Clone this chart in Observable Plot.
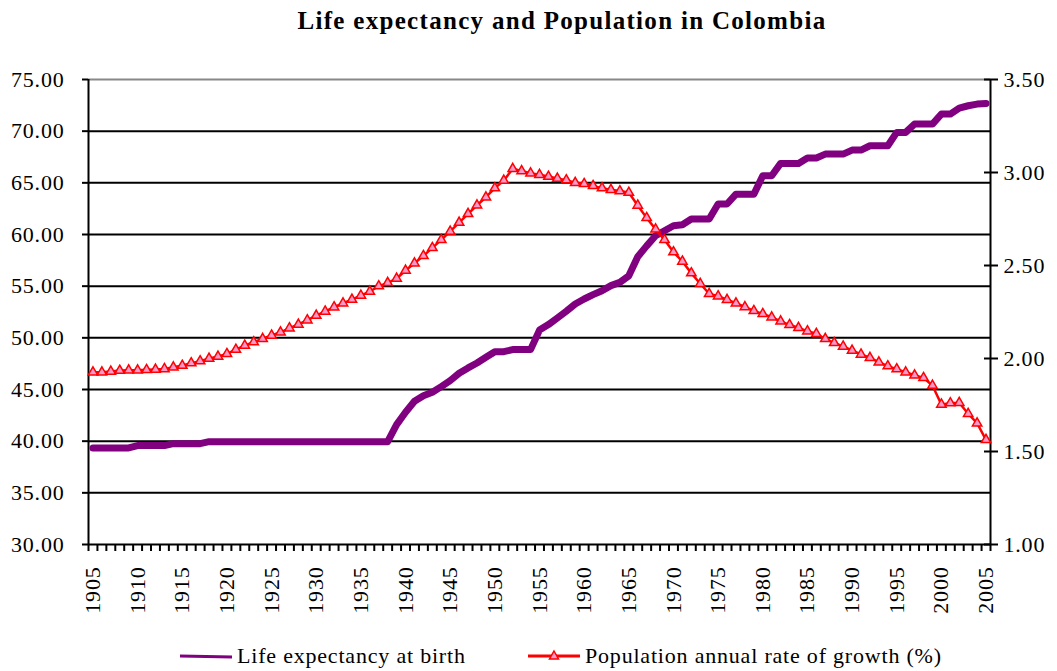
<!DOCTYPE html>
<html>
<head>
<meta charset="utf-8">
<script src="https://cdn.jsdelivr.net/npm/d3@7"></script>
<script src="https://cdn.jsdelivr.net/npm/@observablehq/plot@0.6"></script>
<style>
  html, body { margin: 0; padding: 0; background: #fff; }
  body { width: 1057px; height: 671px; position: relative; overflow: hidden; font-family: "Liberation Serif", "DejaVu Serif", serif; color: #000; }
  #title { position: absolute; top: 0; left: 0; width: 1057px; height: 40px; box-sizing: border-box; padding-left: 67px; text-align: center; font-size: 25px; font-weight: bold; letter-spacing: 1.3px; line-height: 42px; }
  #chart { position: absolute; top: 40px; left: 0; }
  #chart svg text { letter-spacing: 0.8px; }
  .leg { position: absolute; top: 642px; height: 28px; font-size: 22px; line-height: 28px; white-space: nowrap; letter-spacing: 0.8px; }
  .leg svg { position: absolute; top: 0; }
</style>
</head>
<body>
<div id="title">Life expectancy and Population in Colombia</div>
<div id="chart"></div>
<div class="leg" style="left:180px;"><svg width="56" height="28" style="left:0"><line x1="0" y1="14" x2="52" y2="15" stroke="#800080" stroke-width="3"/></svg><span style="position:absolute;left:57px;">Life expectancy at birth</span></div>
<div class="leg" style="left:528px;"><svg width="56" height="28" style="left:0"><line x1="0" y1="14" x2="52" y2="14" stroke="#ff0000" stroke-width="3"/><path d="M26,9 L30.5,17 L21.5,17 Z" fill="#ff99cc" stroke="#ff0000" stroke-width="1.5"/></svg><span style="position:absolute;left:57px;">Population annual rate of growth (%)</span></div>
<script>
const firstYear = 1905;
const lastYear = 2005;
const labelYears = [1905, 1910, 1915, 1920, 1925, 1930, 1935, 1940, 1945, 1950, 1955, 1960, 1965, 1970, 1975, 1980, 1985, 1990, 1995, 2000, 2005];
const leftTicks = [30, 35, 40, 45, 50, 55, 60, 65, 70, 75];
const rightTicks = [1.0, 1.5, 2.0, 2.5, 3.0, 3.5];

// Life expectancy at birth, 1905..2005
const lifeExp = [
  39.35, 39.35, 39.35, 39.35, 39.35,            // 1905-1909
  39.57, 39.57, 39.57, 39.57,                   // 1910-1913
  39.76, 39.76, 39.76, 39.76,                   // 1914-1917
  39.95, 39.95, 39.95, 39.95, 39.95, 39.95, 39.95, 39.95, 39.95, 39.95, // 1918-1927
  39.95, 39.95, 39.95, 39.95, 39.95, 39.95, 39.95, 39.95, 39.95, 39.95, 39.95, // 1928-1938
  41.6, 42.8, 43.86, 44.4, 44.73, 45.28, 45.86, 46.57, 47.09, 47.57, 48.12, // 1939-1949
  48.66, 48.66, 48.86, 48.86, 48.86, 50.75, 51.28, 51.92, 52.57, 53.27,     // 1950-1959
  53.76, 54.18, 54.56, 55.05, 55.37, 56.0, 57.85, 58.9, 59.88, 60.37,       // 1960-1969
  60.85, 60.95, 61.5, 61.5, 61.5, 62.95, 62.95, 63.9, 63.9, 63.9,           // 1970-1979
  65.69, 65.69, 66.88, 66.88, 66.88, 67.4, 67.4, 67.78, 67.78, 67.78,       // 1980-1989
  68.17, 68.17, 68.59, 68.59, 68.59, 69.88, 69.88, 70.69, 70.69, 70.69,     // 1990-1999
  71.65, 71.65, 72.23, 72.46, 72.62, 72.68                                  // 2000-2005
];

// Population annual rate of growth (%), 1905..2005
const popGrowth = [
  1.926, 1.926, 1.93, 1.935, 1.937, 1.937, 1.939, 1.941, 1.944, 1.953,     // 1905-1914
  1.962, 1.975, 1.986, 2.0, 2.011, 2.025, 2.048, 2.07, 2.088, 2.106,       // 1915-1924
  2.124, 2.141, 2.163, 2.183, 2.206, 2.231, 2.253, 2.276, 2.297, 2.317,    // 1925-1934
  2.339, 2.36, 2.389, 2.407, 2.43, 2.473, 2.512, 2.552, 2.595, 2.638,      // 1935-1944
  2.683, 2.731, 2.778, 2.824, 2.867, 2.916, 2.957, 3.02, 3.008, 2.996,     // 1945-1954
  2.988, 2.978, 2.968, 2.959, 2.945, 2.939, 2.928, 2.916, 2.907, 2.9,      // 1955-1964
  2.892, 2.823, 2.756, 2.695, 2.638, 2.572, 2.522, 2.459, 2.402, 2.348,    // 1965-1974
  2.335, 2.316, 2.297, 2.277, 2.256, 2.24, 2.222, 2.2, 2.181, 2.165,       // 1975-1984
  2.147, 2.133, 2.106, 2.084, 2.065, 2.043, 2.022, 2.004, 1.98, 1.959,     // 1985-1994
  1.943, 1.926, 1.91, 1.896, 1.855, 1.753, 1.76, 1.762, 1.703, 1.652,      // 1995-2004
  1.563                                                                    // 2005
];

const years = d3.range(firstYear, lastYear + 1);
const rows = years.map((year, i) => ({year, life: lifeExp[i], growth: popGrowth[i]}));

// secondary axis mapping: 1.00..3.50 <-> 30..75
const toLeft = v => 30 + (v - 1) * 18;
const fromLeft = v => (v - 30) / 18 + 1;

const boundaries = years.map(y => y - 0.5).concat([lastYear + 0.5]);
const serif = "'Liberation Serif', 'DejaVu Serif', serif";

const chart = Plot.plot({
  width: 1057,
  height: 600,
  marginTop: 39,
  marginBottom: 96,
  marginLeft: 88,
  marginRight: 67,
  x: {domain: [firstYear - 0.5, lastYear + 0.5], label: null},
  y: {domain: [30, 75], label: null},
  style: {fontFamily: serif, fontSize: "22px", color: "#000", background: "#fff", overflow: "visible"},
  marks: [
    Plot.ruleY(leftTicks.filter(t => t > 30 && t < 75), {stroke: "#000", strokeWidth: 2}),
    Plot.ruleY([75], {stroke: "#888", strokeWidth: 2}),
    Plot.ruleY([30], {stroke: "#000", strokeWidth: 2}),
    Plot.ruleX([firstYear - 0.5, lastYear + 0.5], {stroke: "#000", strokeWidth: 2}),
    Plot.axisY(leftTicks, {anchor: "left", label: null, tickSize: 6, tickPadding: 18, strokeWidth: 2, tickFormat: d => d.toFixed(2), fontSize: 22, fontFamily: serif}),
    Plot.axisY(rightTicks.map(toLeft), {anchor: "right", label: null, tickSize: 14, dx: -7, tickPadding: 6, strokeWidth: 2, tickFormat: d => fromLeft(d).toFixed(2), fontSize: 22, fontFamily: serif}),
    Plot.axisX(boundaries, {anchor: "bottom", label: null, tickSize: 7, strokeWidth: 2, tickFormat: () => ""}),
    Plot.axisX(labelYears, {anchor: "bottom", label: null, tickSize: 0, tickPadding: 22, tickRotate: -90, tickFormat: d => String(d), fontSize: 22, fontFamily: serif}),
    Plot.line(rows, {x: "year", y: "life", stroke: "#800080", strokeWidth: 7, strokeLinejoin: "round", strokeLinecap: "round"}),
    Plot.line(rows, {x: "year", y: d => toLeft(d.growth), stroke: "#ff0000", strokeWidth: 2.5}),
    Plot.dot(rows, {x: "year", y: d => toLeft(d.growth), symbol: "triangle", r: 3.5, stroke: "#ff0000", fill: "#ff99cc", strokeWidth: 1.5})
  ]
});
document.getElementById("chart").appendChild(chart);
</script>
</body>
</html>
